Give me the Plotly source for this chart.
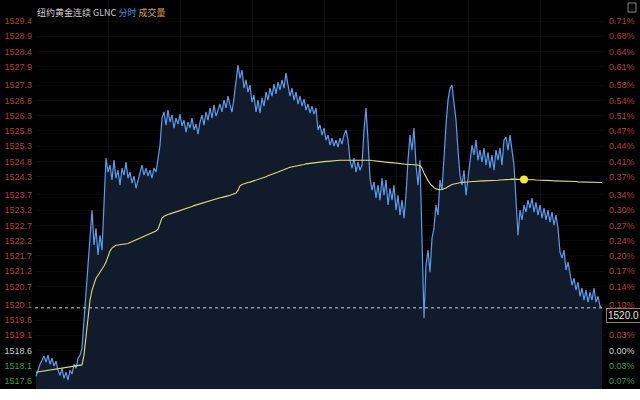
import plotly.graph_objects as go

# ---------------- data ----------------
prev_close = 1518.6
last_price = 1520.0

price = [
    # early session
    1517.76, 1517.96, 1518.15, 1518.28, 1518.42, 1518.22, 1518.45, 1518.15, 1518.35, 1518.09,
    1518.25, 1517.96, 1517.79, 1518.02, 1517.69, 1517.89, 1517.63, 1517.96, 1517.83, 1518.15,
    1518.02, 1518.35, 1518.45, 1518.68,
    # surge
    1519.60, 1520.58, 1521.50, 1522.38, 1523.20, 1522.06, 1522.61, 1521.73, 1522.38, 1521.89, 1523.53,
    # plateau 1
    1524.91, 1524.45, 1524.68, 1524.19, 1524.84, 1524.25, 1524.51, 1524.02, 1524.58, 1524.35,
    1524.78, 1524.25, 1524.45, 1524.09, 1524.32, 1523.92, 1524.19, 1524.45, 1524.68, 1524.35,
    1524.58, 1524.32, 1524.51, 1524.25, 1524.58, 1524.45, 1524.84, 1525.33,
    # plateau 2
    1526.22, 1526.42, 1525.99, 1526.48, 1526.09, 1526.32, 1525.89, 1526.22, 1526.02, 1526.35,
    1525.96, 1526.15, 1525.76, 1526.09, 1525.89, 1526.22, 1525.83, 1526.02, 1525.69, 1526.09,
    1526.32, 1525.99, 1526.42, 1526.15, 1526.55, 1526.22, 1526.65, 1526.28, 1526.48, 1526.68,
    1526.42, 1526.81, 1526.55, 1526.94, 1526.65,
    # high
    1526.42, 1526.88, 1527.47, 1527.96, 1527.53, 1527.79, 1527.20, 1527.47, 1527.07, 1527.30,
    1526.74, 1526.97, 1526.42, 1526.81, 1526.38, 1526.88, 1526.61, 1527.07, 1526.81, 1527.20,
    1526.94, 1527.33, 1527.01, 1527.40, 1527.14, 1527.47, 1527.20, 1527.70, 1527.30, 1526.94,
    1527.20, 1526.81, 1527.07, 1526.68, 1526.94, 1526.61, 1526.84, 1526.48, 1526.68, 1526.38,
    1526.61, 1526.35, 1526.55,
    # decline
    1525.83, 1525.99, 1525.66, 1525.89, 1525.50, 1525.66, 1525.33, 1525.56, 1525.30, 1525.50,
    1525.27, 1525.56, 1525.37, 1525.66, 1525.83, 1525.50, 1524.84, 1524.58, 1524.91, 1524.45,
    1524.78, 1524.51, 1524.68, 1525.83, 1526.55, 1525.50, 1524.25, 1523.86, 1524.12, 1523.60,
    1524.02, 1523.53, 1524.25, 1523.69, 1524.19, 1523.37, 1523.92, 1523.53, 1524.02, 1523.20,
    1523.69, 1523.04, 1523.53, 1522.94, 1523.69,
    # spike down and rebound
    1524.84, 1525.66, 1525.17, 1525.89, 1524.68, 1524.02, 1524.84, 1522.22, 1519.66, 1521.40,
    1521.89, 1521.17, 1522.28, 1522.61, 1523.37, 1523.04, 1524.19, 1523.86, 1525.17, 1525.99,
    1526.81, 1527.20, 1527.30, 1526.65, 1526.15, 1525.17, 1524.35, 1524.02, 1524.51, 1523.69,
    1524.19, 1524.84,
    # range
    1525.33, 1525.01, 1525.50, 1524.84, 1525.17, 1524.78, 1525.24, 1524.68, 1525.10, 1524.58,
    1525.01, 1524.51, 1525.17, 1524.84, 1525.24, 1524.68, 1525.50, 1525.60, 1525.17, 1525.66,
    1525.24, 1524.68,
    # lower range
    1523.53, 1522.38, 1523.20, 1522.88, 1523.37, 1523.14, 1523.53, 1523.27, 1523.60, 1523.14,
    1523.46, 1523.04, 1523.37, 1522.94, 1523.27, 1522.88, 1523.20, 1522.81, 1523.14, 1522.71,
    1523.04, 1522.61,
    # late slide
    1521.83, 1521.63, 1521.89, 1521.24, 1521.50, 1521.07, 1520.74, 1520.97, 1520.58, 1520.84,
    1520.38, 1520.65, 1520.25, 1520.58, 1520.19, 1520.51, 1520.25, 1520.65, 1520.19, 1520.38,
    1520.05, 1520.00,
]

avg_price = [
    1517.89, 1517.90, 1517.91, 1517.93, 1517.94, 1517.95, 1517.95, 1517.97, 1517.98, 1517.99,
    1518.00, 1518.00, 1518.01, 1518.02, 1518.03, 1518.03, 1518.04, 1518.05, 1518.06, 1518.07,
    1518.08, 1518.09, 1518.11, 1518.13,
    1518.45, 1519.10, 1519.76, 1520.25, 1520.58, 1520.81, 1520.97, 1521.07, 1521.17, 1521.24, 1521.37,
    1521.50, 1521.69, 1521.86, 1521.96, 1522.02, 1522.05, 1522.06, 1522.07, 1522.08, 1522.09,
    1522.09, 1522.11, 1522.14, 1522.17, 1522.20, 1522.22, 1522.25, 1522.28, 1522.31, 1522.34,
    1522.37, 1522.40, 1522.43, 1522.46, 1522.49, 1522.52, 1522.58, 1522.75,
    1522.94, 1523.00, 1523.04, 1523.06, 1523.08, 1523.10, 1523.12, 1523.14, 1523.17, 1523.20,
    1523.22, 1523.24, 1523.26, 1523.28, 1523.30, 1523.32, 1523.35, 1523.37, 1523.40, 1523.42,
    1523.44, 1523.46, 1523.48, 1523.51, 1523.53, 1523.55, 1523.57, 1523.58, 1523.60, 1523.61,
    1523.62, 1523.63, 1523.65, 1523.67, 1523.69,
    1523.71, 1523.73, 1523.76, 1523.85, 1524.00, 1524.04, 1524.07, 1524.09, 1524.11, 1524.12,
    1524.14, 1524.16, 1524.18, 1524.20, 1524.22, 1524.24, 1524.27, 1524.30, 1524.33, 1524.35,
    1524.38, 1524.40, 1524.43, 1524.45, 1524.48, 1524.50, 1524.53, 1524.56, 1524.58, 1524.61,
    1524.62, 1524.64, 1524.65, 1524.67, 1524.68, 1524.69, 1524.70, 1524.72, 1524.73, 1524.74,
    1524.75, 1524.76, 1524.76,
    1524.77, 1524.78, 1524.78, 1524.79, 1524.80, 1524.80, 1524.81, 1524.82, 1524.82, 1524.83,
    1524.83, 1524.84, 1524.84, 1524.84, 1524.85, 1524.85, 1524.85, 1524.85, 1524.84, 1524.84,
    1524.84, 1524.84, 1524.84, 1524.85, 1524.86, 1524.85, 1524.84, 1524.83, 1524.82, 1524.82,
    1524.81, 1524.80, 1524.80, 1524.79, 1524.78, 1524.77, 1524.76, 1524.76, 1524.75, 1524.74,
    1524.73, 1524.72, 1524.71, 1524.70, 1524.70,
    1524.70, 1524.70, 1524.70, 1524.70, 1524.69, 1524.68, 1524.66, 1524.58, 1524.42, 1524.28,
    1524.17, 1524.07, 1524.00, 1523.94, 1523.90, 1523.88, 1523.87, 1523.88, 1523.90, 1523.93,
    1523.97, 1524.01, 1524.04, 1524.06, 1524.08, 1524.09, 1524.10, 1524.11, 1524.12, 1524.12,
    1524.13, 1524.13,
    1524.14, 1524.14, 1524.15, 1524.15, 1524.15, 1524.16, 1524.16, 1524.16, 1524.17, 1524.17,
    1524.17, 1524.18, 1524.18, 1524.18, 1524.19, 1524.19, 1524.20, 1524.20, 1524.21, 1524.21,
    1524.22, 1524.22,
    1524.22, 1524.22, 1524.22, 1524.22, 1524.21, 1524.21, 1524.21, 1524.20, 1524.20, 1524.20,
    1524.19, 1524.19, 1524.19, 1524.18, 1524.18, 1524.18, 1524.17, 1524.17, 1524.17, 1524.16,
    1524.16, 1524.16,
    1524.16, 1524.15, 1524.15, 1524.15, 1524.15, 1524.14, 1524.14, 1524.14, 1524.14, 1524.13,
    1524.13, 1524.13, 1524.13, 1524.12, 1524.12, 1524.12, 1524.12, 1524.12, 1524.11, 1524.11,
    1524.11, 1524.11,
]

price_ticks = [1529.4, 1528.9, 1528.4, 1527.9, 1527.3, 1526.8, 1526.3, 1525.8, 1525.3, 1524.8,
               1524.3, 1523.7, 1523.2, 1522.7, 1522.2, 1521.7, 1521.2, 1520.7, 1520.1, 1519.6,
               1519.1, 1518.6, 1518.1, 1517.6]
pct_labels = ["0.71%", "0.68%", "0.64%", "0.61%", "0.58%", "0.54%", "0.51%", "0.47%", "0.44%", "0.41%",
              "0.37%", "0.34%", "0.30%", "0.27%", "0.24%", "0.20%", "0.17%", "0.14%", "0.10%", "",
              "0.03%", "0.00%", "0.03%", "0.07%"]
hover_index = 244

title_main = "纽约黄金连续 GLNC"
title_mode = "分时"
title_vol = "成交量"

# ---------------- styling ----------------
RED = "#b8383c"
GREEN = "#3c9e48"
NEUTRAL = "#cfcfcf"


def col(v):
    if abs(v - prev_close) < 1e-6:
        return NEUTRAL
    return RED if v > prev_close else GREEN


left_text = [f"<span style='color:{col(v)}'>{v:.1f}</span>" for v in price_ticks]
right_vals = [v for v, t in zip(price_ticks, pct_labels) if t]
right_text = [f"<span style='color:{col(v)}'>{t}</span>" for v, t in zip(price_ticks, pct_labels) if t]

x = list(range(len(price)))
n = len(price)

fig = go.Figure()
fig.add_trace(go.Scatter(
    x=x, y=price, mode="lines",
    line=dict(color="#5c9cee", width=1.2),
    fill="tozeroy", fillcolor="#121b2c",
    hoverinfo="skip", showlegend=False,
))
fig.add_trace(go.Scatter(
    x=x[:len(avg_price)], y=avg_price, mode="lines",
    line=dict(color="#dedb74", width=1.1),
    hoverinfo="skip", showlegend=False,
))
fig.add_trace(go.Scatter(
    x=[x[hover_index]], y=[avg_price[hover_index]], mode="markers",
    marker=dict(color="#f6e63a", size=8),
    hoverinfo="skip", showlegend=False,
))
# invisible trace to carry the right axis
fig.add_trace(go.Scatter(
    x=[x[0]], y=[prev_close], yaxis="y2", mode="markers",
    marker=dict(opacity=0), hoverinfo="skip", showlegend=False,
))

y_range = [1517.34, 1530.09]
tick_font = dict(family="Liberation Sans, Arial, sans-serif", size=9)

fig.update_layout(
    width=640, height=400,
    margin=dict(l=35, r=35, t=0, b=11),
    paper_bgcolor="#000000",
    plot_bgcolor="#000000",
    xaxis=dict(
        range=[-0.5, n + 0.5], showticklabels=False, ticks="",
        showgrid=True, gridcolor="rgba(120,140,170,0.10)", dtick=36, tick0=0,
        zeroline=False, showline=False, fixedrange=True, automargin=False,
    ),
    yaxis=dict(
        range=y_range, tickvals=price_ticks, ticktext=left_text,
        tickfont=tick_font, ticks="", showgrid=True, gridcolor="rgba(255,255,255,0.035)",
        zeroline=False, showline=False, ticklabelstandoff=2, fixedrange=True, automargin=False,
    ),
    yaxis2=dict(
        range=y_range, overlaying="y", side="right",
        tickvals=right_vals, ticktext=right_text,
        tickfont=tick_font, ticks="", showgrid=False,
        zeroline=False, showline=False, ticklabelstandoff=3, fixedrange=True, automargin=False,
    ),
    shapes=[
        dict(type="line", xref="paper", yref="y", x0=0, x1=1, y0=last_price, y1=last_price,
             line=dict(color="#d8d2c4", width=1, dash="3px,3px")),
        dict(type="rect", xref="paper", yref="paper", x0=-0.2, x1=1.2, y0=-0.06, y1=0,
             fillcolor="#ffffff", line=dict(width=0)),
        dict(type="rect", xref="paper", yref="paper", x0=1.0404, x1=1.0544, y0=0.9690, y1=0.9923,
             fillcolor="rgba(0,0,0,0)", line=dict(color="#8a8a8a", width=1)),
    ],
    annotations=[
        dict(xref="paper", yref="paper", x=0, y=0.9666, xanchor="left", yanchor="middle",
             showarrow=False,
             text=(f"<span style='color:#cfcfcf'>{title_main}</span> "
                   f"<span style='color:#4b8fe2'>{title_mode}</span> "
                   f"<span style='color:#d6a24a'>{title_vol}</span>"),
             font=dict(family="Noto Sans CJK SC, sans-serif", size=9)),
        dict(xref="paper", yref="y", x=1, y=last_price, xanchor="left", yanchor="top",
             xshift=1, showarrow=False, text=f"{last_price:.1f}",
             font=dict(family="Liberation Sans, Arial, sans-serif", size=10, color="#e6e6e6"),
             bgcolor="#000000", bordercolor="#a07c48", borderwidth=1, borderpad=1),
    ],
)

fig.write_html(
    "out.html",
    config={"displayModeBar": False},
    post_script="document.body.style.margin='0';document.body.style.overflow='hidden';",
)
